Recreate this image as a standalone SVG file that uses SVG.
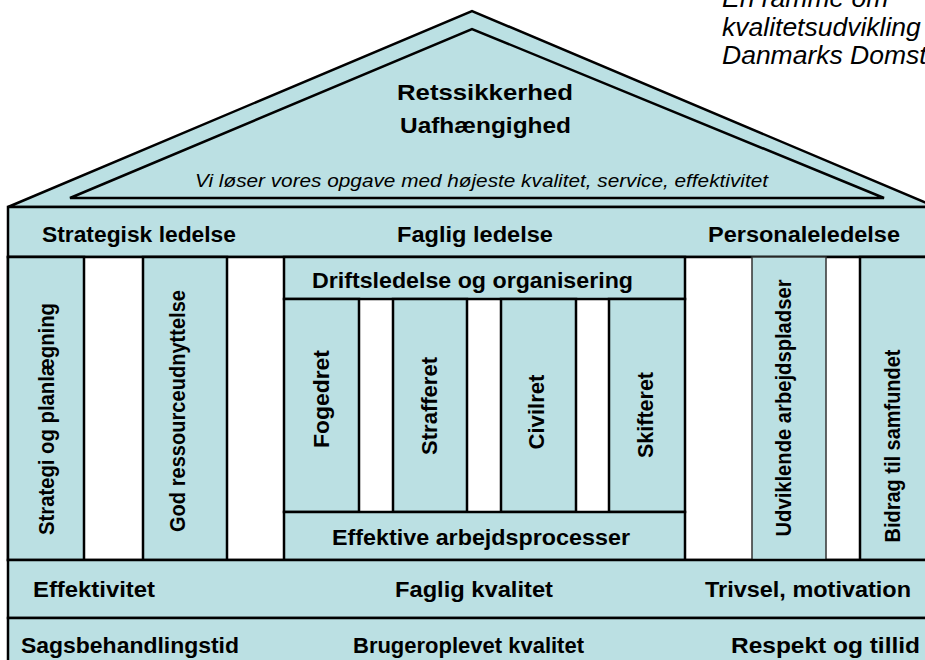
<svg xmlns="http://www.w3.org/2000/svg" width="925" height="660" viewBox="0 0 925 660">
<style>
.b{fill:#BBE0E3;stroke:#000;stroke-width:2.5}
.w{fill:#fff;stroke:#000;stroke-width:2.5}
.t{font-family:"Liberation Sans",Arial,sans-serif;font-weight:bold;font-size:22px;fill:#000}
.i{font-family:"Liberation Sans",Arial,sans-serif;font-style:italic;fill:#000}
.v{text-anchor:middle}
</style>
<rect width="925" height="660" fill="#fff"/>
<g id="title">
<text class="i" font-size="26.5" x="722" y="7">En ramme om</text>
<text class="i" font-size="26.5" x="722" y="36">kvalitetsudvikling</text>
<text class="i" font-size="26.5" x="722" y="64">Danmarks Domstole</text>
</g>
<g id="roof">
<polygon class="b" points="8,207 472,11 936,207" stroke-width="3"/>
<polygon class="b" points="70,198 472,29 884,198"/>
<text class="t" font-size="23" x="397" y="100" textLength="176" lengthAdjust="spacingAndGlyphs">Retssikkerhed</text>
<text class="t" font-size="23" x="400" y="133" textLength="171" lengthAdjust="spacingAndGlyphs">Uafhængighed</text>
<text class="i" font-size="19" x="195" y="187" textLength="573" lengthAdjust="spacingAndGlyphs">Vi løser vores opgave med højeste kvalitet, service, effektivitet</text>
</g>
<g id="ledelse">
<rect class="b" x="8" y="207" width="940" height="50"/>
<text class="t" x="42" y="242" textLength="194" lengthAdjust="spacingAndGlyphs">Strategisk ledelse</text>
<text class="t" x="397" y="242" textLength="156" lengthAdjust="spacingAndGlyphs">Faglig ledelse</text>
<text class="t" x="708" y="242" textLength="192" lengthAdjust="spacingAndGlyphs">Personaleledelse</text>
</g>
<g id="columns-frame">
<rect class="w" x="8" y="257" width="940" height="303"/>
</g>
<g id="strategi">
<rect class="b" x="8" y="257" width="76" height="303"/>
<text class="t v" transform="translate(54,419) rotate(-90)" textLength="232" lengthAdjust="spacingAndGlyphs">Strategi og planlægning</text>
</g>
<g id="ressource">
<rect class="b" x="143" y="257" width="84" height="303"/>
<text class="t v" transform="translate(185,411) rotate(-90)" textLength="242" lengthAdjust="spacingAndGlyphs">God ressourceudnyttelse</text>
</g>
<g id="drift">
<rect class="b" x="284" y="257" width="401" height="42"/>
<text class="t" x="312" y="288" textLength="321" lengthAdjust="spacingAndGlyphs">Driftsledelse og organisering</text>
</g>
<g id="fogedret">
<rect class="b" x="284" y="299" width="75" height="213"/>
<text class="t v" transform="translate(329,399) rotate(-90)" textLength="98" lengthAdjust="spacingAndGlyphs">Fogedret</text>
</g>
<g id="strafferet">
<rect class="b" x="393" y="299" width="74" height="213"/>
<text class="t v" transform="translate(437,406) rotate(-90)" textLength="98" lengthAdjust="spacingAndGlyphs">Strafferet</text>
</g>
<g id="civilret">
<rect class="b" x="501" y="299" width="75" height="213"/>
<text class="t v" transform="translate(544,412) rotate(-90)" textLength="75" lengthAdjust="spacingAndGlyphs">Civilret</text>
</g>
<g id="skifteret">
<rect class="b" x="609" y="299" width="76" height="213"/>
<text class="t v" transform="translate(653,415) rotate(-90)" textLength="86" lengthAdjust="spacingAndGlyphs">Skifteret</text>
</g>
<g id="processer">
<rect class="b" x="284" y="512" width="401" height="48"/>
<text class="t" x="332" y="545" textLength="298" lengthAdjust="spacingAndGlyphs">Effektive arbejdsprocesser</text>
</g>
<g id="udviklende">
<rect x="752" y="257" width="74" height="305" fill="#BBE0E3" stroke="#333" stroke-width="1.5"/>
<text class="t v" transform="translate(791,408) rotate(-90)" textLength="257" lengthAdjust="spacingAndGlyphs">Udviklende arbejdspladser</text>
</g>
<g id="bidrag">
<rect class="b" x="860" y="257" width="88" height="303"/>
<text class="t v" transform="translate(900,446) rotate(-90)" textLength="193" lengthAdjust="spacingAndGlyphs">Bidrag til samfundet</text>
</g>
<g id="resultater">
<rect class="b" x="8" y="560" width="940" height="58"/>
<text class="t" x="33" y="597" textLength="122" lengthAdjust="spacingAndGlyphs">Effektivitet</text>
<text class="t" x="395" y="597" textLength="158" lengthAdjust="spacingAndGlyphs">Faglig kvalitet</text>
<text class="t" x="705" y="597" textLength="206" lengthAdjust="spacingAndGlyphs">Trivsel, motivation</text>
</g>
<g id="effekter">
<rect class="b" x="8" y="618" width="940" height="60"/>
<text class="t" x="21" y="653" textLength="218" lengthAdjust="spacingAndGlyphs">Sagsbehandlingstid</text>
<text class="t" x="353" y="653" textLength="231" lengthAdjust="spacingAndGlyphs">Brugeroplevet kvalitet</text>
<text class="t" x="731" y="653" textLength="189" lengthAdjust="spacingAndGlyphs">Respekt og tillid</text>
</g>
<g id="connectors"></g>
</svg>
